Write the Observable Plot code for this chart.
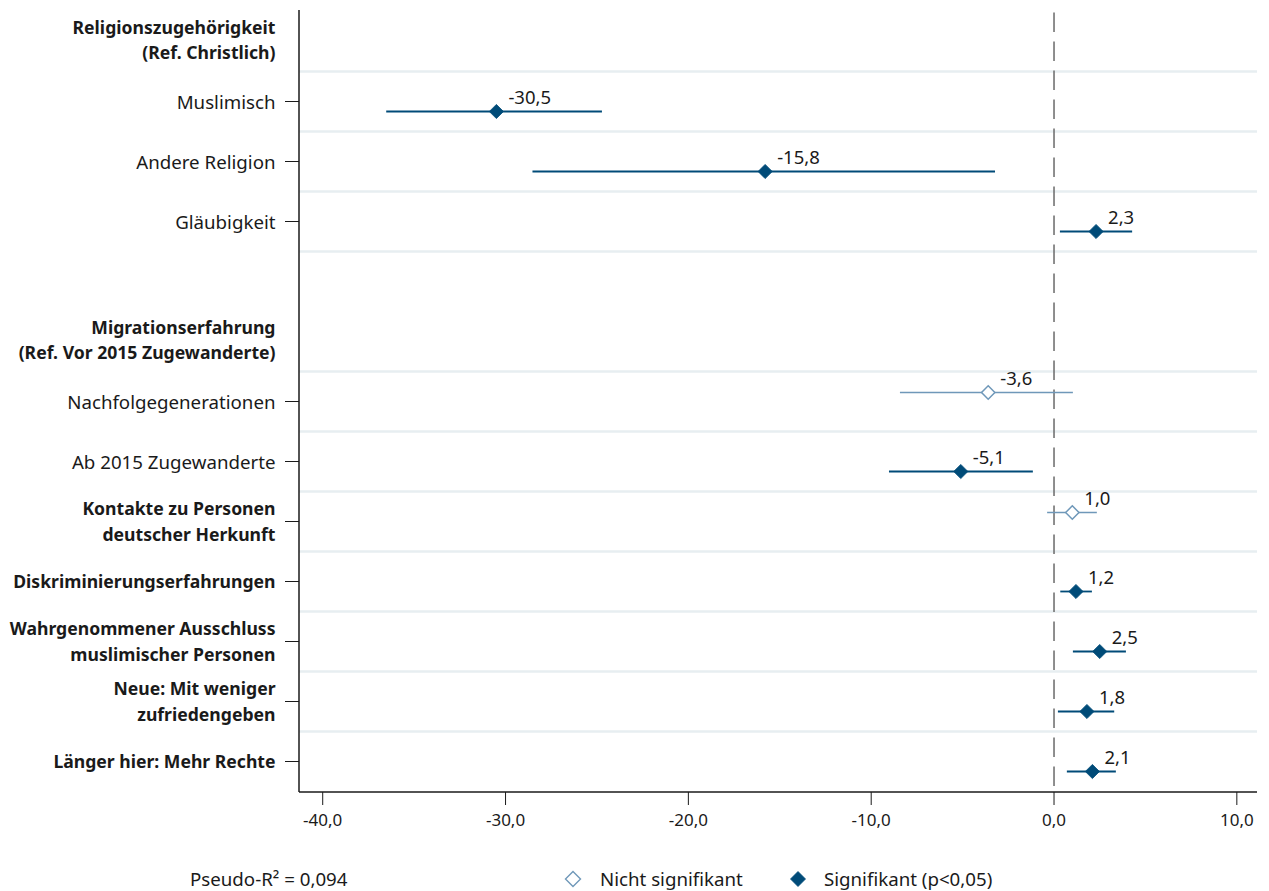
<!DOCTYPE html>
<html>
<head>
<meta charset="utf-8">
<script src="https://cdn.jsdelivr.net/npm/d3@7"></script>
<script src="https://cdn.jsdelivr.net/npm/@observablehq/plot@0.6"></script>
<style>
  html, body { margin: 0; padding: 0; background: #fff; }
  body { width: 1269px; height: 891px; overflow: hidden; font-family: "Noto Sans", sans-serif; color: #1a1a1a; }
  #footer { position: relative; height: 46px; font-size: 18.7px; }
  #footer span { position: absolute; white-space: nowrap; line-height: 22px; }
  #footer svg { position: absolute; }
</style>
</head>
<body>
<div id="chart"></div>
<div id="footer"></div>
<script>
// ---- data ----
const rows = [
  "Religionszugehörigkeit\n(Ref. Christlich)",
  "Muslimisch",
  "Andere Religion",
  "Gläubigkeit",
  " ",
  "Migrationserfahrung\n(Ref. Vor 2015 Zugewanderte)",
  "Nachfolgegenerationen",
  "Ab 2015 Zugewanderte",
  "Kontakte zu Personen\ndeutscher Herkunft",
  "Diskriminierungserfahrungen",
  "Wahrgenommener Ausschluss\nmuslimischer Personen",
  "Neue: Mit weniger\nzufriedengeben",
  "Länger hier: Mehr Rechte"
];
const headerRows = [rows[0], rows[5]];
const levelRows = ["Muslimisch", "Andere Religion", "Gläubigkeit", "Nachfolgegenerationen", "Ab 2015 Zugewanderte"];
const boldVarRows = [rows[8], rows[9], rows[10], rows[11], rows[12]];
const gridRows = [rows[1], rows[2], rows[3], rows[4], rows[6], rows[7], rows[8], rows[9], rows[10], rows[11], rows[12]];

const terms = [rows[1], rows[2], rows[3], rows[6], rows[7], rows[8], rows[9], rows[10], rows[11], rows[12]];
const coef   = [-30.5, -15.8, 2.3, -3.6, -5.1, 1.0, 1.2, 2.5, 1.8, 2.1];
const ciLow  = [-36.5, -28.5, 0.35, -8.4, -9.0, -0.35, 0.37, 1.06, 0.24, 0.73];
const ciHigh = [-24.7, -3.2, 4.3, 1.06, -1.13, 2.37, 2.1, 3.96, 3.32, 3.41];
const significant = [true, true, true, false, true, false, true, true, true, true];

const xTicks = [-40, -30, -20, -10, 0, 10];
const pseudoR2 = "Pseudo-R² = 0,094";
const legendLabels = ["Nicht signifikant", "Signifikant (p<0,05)"];

// ---- styles ----
const darkBlue = "#004b78";
const lightBlue = "#6f98b9";
const gridColor = "#e7eef1";
const fmt = v => v.toFixed(1).replace(".", ",");

const table = terms.map((t, i) => ({term: t, coef: coef[i], lo: ciLow[i], hi: ciHigh[i], sig: significant[i]}));
const sigData = table.filter(d => d.sig);
const nsData = table.filter(d => !d.sig);

const axisLines = (index, scales, values, dims) => {
  const g = d3.create("svg:g").attr("stroke", "#1a1a1a").attr("stroke-width", 1.5);
  const x0 = dims.marginLeft, x1 = dims.width - dims.marginRight;
  const y0 = dims.marginTop, y1 = dims.height - dims.marginBottom;
  g.append("line").attr("x1", x0).attr("x2", x0).attr("y1", y0).attr("y2", y1);
  g.append("line").attr("x1", x0).attr("x2", x1).attr("y1", y1).attr("y2", y1);
  return g.node();
};

const labelOpts = {y: d => d, text: d => d, frameAnchor: "left", textAnchor: "end", dx: -24, dy: -1.5, lineHeight: 1.45, fill: "#1a1a1a"};

const chart = Plot.plot({
  width: 1269,
  height: 845,
  marginLeft: 299,
  marginRight: 12,
  marginTop: 10,
  marginBottom: 53,
  style: {fontFamily: "Noto Sans", fontSize: "17px", color: "#1a1a1a", background: "#fff"},
  x: {domain: [-41.27, 11.13]},
  y: {type: "band", domain: rows, padding: 0, axis: null},
  marks: [
    Plot.ruleY(gridRows, {dy: -30, stroke: gridColor, strokeWidth: 2.5}),
    Plot.ruleX([0], {stroke: "#6a6a6a", strokeWidth: 1.5, strokeDasharray: "19.5,9.5", strokeDashoffset: -2.5}),
    Plot.axisX({ticks: xTicks, tickSize: 13, tickPadding: 8, fontSize: 17, tickFormat: d => fmt(d), label: null, stroke: "#1a1a1a"}),
    Plot.axisY({ticks: terms, tickSize: 14, tickFormat: () => "", label: null, stroke: "#1a1a1a"}),
    Plot.text(levelRows, {...labelOpts, fontSize: 18.7, fontWeight: "normal"}),
    Plot.text(boldVarRows, {...labelOpts, fontSize: 17.6, fontWeight: "bold"}),
    Plot.text(headerRows, {...labelOpts, dy: -3, fontSize: 17.6, fontWeight: "bold"}),
    axisLines,
    Plot.ruleY(nsData, {y: "term", x1: "lo", x2: "hi", dy: -9, stroke: lightBlue, strokeWidth: 1.6}),
    Plot.ruleY(sigData, {y: "term", x1: "lo", x2: "hi", dy: 10, stroke: darkBlue, strokeWidth: 1.8}),
    Plot.dot(nsData, {x: "coef", y: "term", dy: -9, symbol: "diamond2", r: 6, fill: "white", stroke: lightBlue, strokeWidth: 1.5}),
    Plot.dot(sigData, {x: "coef", y: "term", dy: 10, symbol: "diamond2", r: 6.4, fill: darkBlue, stroke: darkBlue, strokeWidth: 0.8}),
    Plot.text(nsData, {x: "coef", y: "term", text: d => fmt(d.coef), dy: -22, dx: 12, textAnchor: "start", fontSize: 18.5, fill: "#1a1a1a"}),
    Plot.text(sigData, {x: "coef", y: "term", text: d => fmt(d.coef), dy: -3, dx: 12, textAnchor: "start", fontSize: 18.5, fill: "#1a1a1a"})
  ]
});
document.getElementById("chart").appendChild(chart);

// ---- footer (caption + legend) ----
const footer = document.getElementById("footer");
const addSpan = (text, left) => {
  const s = document.createElement("span");
  s.textContent = text;
  s.style.left = left + "px";
  s.style.top = "23px";
  footer.appendChild(s);
};
const addDiamond = (cx, filled) => {
  const ns = "http://www.w3.org/2000/svg";
  const svg = document.createElementNS(ns, "svg");
  svg.setAttribute("width", 20); svg.setAttribute("height", 20);
  svg.style.left = (cx - 10) + "px"; svg.style.top = "24px";
  const p = document.createElementNS(ns, "path");
  p.setAttribute("d", "M10,2.5L17.5,10L10,17.5L2.5,10Z");
  p.setAttribute("fill", filled ? darkBlue : "white");
  p.setAttribute("stroke", filled ? darkBlue : lightBlue);
  p.setAttribute("stroke-width", filled ? 0.8 : 1.4);
  svg.appendChild(p);
  footer.appendChild(svg);
};
addSpan(pseudoR2, 190);
addDiamond(573, false);
addSpan(legendLabels[0], 600);
addDiamond(798, true);
addSpan(legendLabels[1], 824);
</script>
</body>
</html>
